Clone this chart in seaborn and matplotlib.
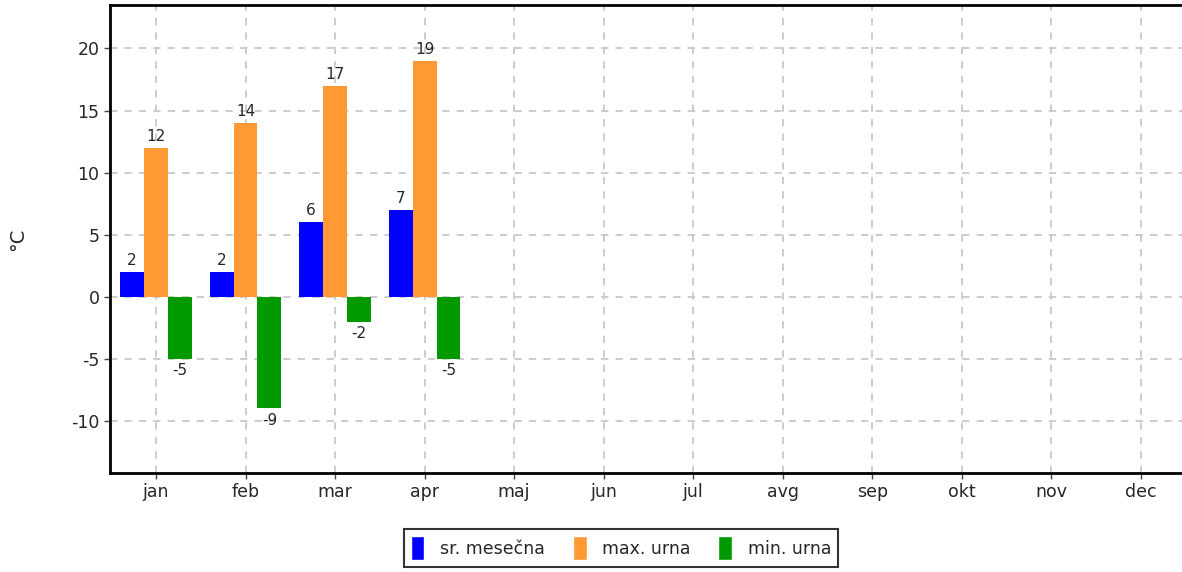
import pandas as pd
import numpy as np
import matplotlib.pyplot as plt
import seaborn as sns
from matplotlib.patches import Patch

# monthly temperature data --->
months = ["jan", "feb", "mar", "apr", "maj", "jun", "jul", "avg", "sep", "okt", "nov", "dec"]
series_names = ["sr. mesečna", "max. urna", "min. urna"]
sr_mesecna = [2, 2, 6, 7]
max_urna = [12, 14, 17, 19]
min_urna = [-5, -9, -2, -5]
colors = ["#0000ff", "#ff9933", "#009900"]

rows = []
for i in range(len(sr_mesecna)):
    rows.append([months[i], series_names[0], sr_mesecna[i]])
    rows.append([months[i], series_names[1], max_urna[i]])
    rows.append([months[i], series_names[2], min_urna[i]])
df = pd.DataFrame(rows, columns=["mesec", "serija", "temp"])

sns.set_style("white")
plt.rcParams['font.family'] = ['DejaVu Sans']
plt.rcParams['axes.unicode_minus'] = False

fig = plt.figure(figsize=(11.82, 5.72), dpi=100)
ax = fig.add_axes([110/1182, 1 - 473/572, 1 - 110/1182 + 0.03, (473 - 5)/572])

sns.barplot(data=df, x="mesec", y="temp", hue="serija", order=months,
            hue_order=series_names, palette=colors, width=0.8,
            saturation=1, legend=False, ax=ax, zorder=3,
            linewidth=0, edgecolor="none")

for cont in ax.containers:
    ax.bar_label(cont, fmt="%g", padding=3, fontsize=11)

ax.set_xlim(-0.514, 11.46 + 0.03 * 1182 / 89.5)
ax.set_ylim(-14.2, 23.5)
ax.set_yticks([-10, -5, 0, 5, 10, 15, 20])
ax.set_xlabel("")
ax.set_ylabel("°C", fontsize=14, labelpad=32)
ax.tick_params(axis="both", labelsize=12.5, length=4, width=1, direction="out",
               left=True, bottom=True, color="#444444")

ax.grid(True, color="#c8c8c8", linestyle=(0, (4, 4)), linewidth=1.3, zorder=0)
ax.set_axisbelow(True)

for s in ["left", "bottom", "top"]:
    ax.spines[s].set_color("black")
    ax.spines[s].set_linewidth(2)
ax.spines["right"].set_visible(False)

handles = [Patch(facecolor=c, label=n) for c, n in zip(colors, series_names)]
leg = fig.legend(handles=handles, loc="center", bbox_to_anchor=(621/1182, 1 - 548/572),
                 ncol=3, fontsize=12.5, frameon=True, fancybox=False,
                 handlelength=0.8, handleheight=1.7, handletextpad=0.9,
                 columnspacing=1.6, borderpad=0.4)
leg.get_frame().set_edgecolor("black")
leg.get_frame().set_linewidth(1.5)

plt.savefig("out.png", dpi=100)
